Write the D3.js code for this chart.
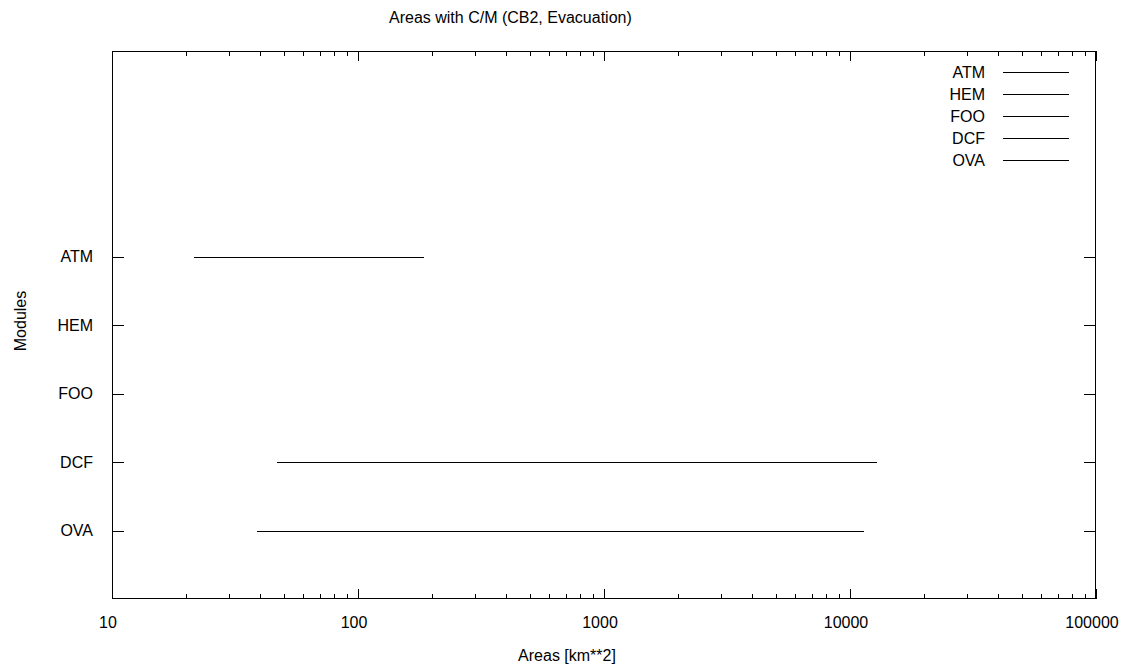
<!DOCTYPE html>
<html><head><meta charset="utf-8">
<script src="https://cdn.jsdelivr.net/npm/d3@7"></script>
<style>body{margin:0;background:#fff}text{font-family:"Liberation Sans",Arial,sans-serif;fill:#000}</style>
</head><body>
<svg id="c" width="1126" height="666"></svg>
<script>
const modules = ["ATM","HEM","FOO","DCF","OVA"];
const modulePos = [5,4,3,2,1];
const startValues = [21.6, null, null, 46.8, 38.9];
const endValues = [186, null, null, 12840, 11440];
const xTickValues = [10,100,1000,10000,100000];
const xTickLabels = ["10","100","1000","10000","100000"];
const titleText = "Areas with C/M (CB2, Evacuation)";
const xLabel = "Areas [km**2]";
const yLabel = "Modules";

const svg = d3.select("#c");
const L=112, R=1096, T=51, B=599;
const x = d3.scaleLog().domain([10,100000]).range([L,R]);
const y = d3.scaleLinear().domain([0,8]).range([B,T]);
const fs = 16;

// minor ticks
const minor = [];
for (let d=10; d<100000; d*=10) for (let k=2;k<=9;k++) minor.push(d*k);

const g = svg.append("g").attr("shape-rendering","crispEdges");
// frame
g.append("rect").attr("x",L+0.5).attr("y",T+0.5).attr("width",R-L-1).attr("height",B-T-1)
 .attr("fill","none").attr("stroke","#000").attr("stroke-width",1);

// x ticks bottom/top
const xt = g.append("g").attr("stroke","#000");
xTickValues.forEach(v=>{
  const px = Math.round(x(v))+0.5;
  xt.append("line").attr("x1",px).attr("x2",px).attr("y1",B).attr("y2",B-10);
  xt.append("line").attr("x1",px).attr("x2",px).attr("y1",T).attr("y2",T+10);
});
minor.forEach(v=>{
  const px = Math.round(x(v))+0.5;
  xt.append("line").attr("x1",px).attr("x2",px).attr("y1",B).attr("y2",B-5);
  xt.append("line").attr("x1",px).attr("x2",px).attr("y1",T).attr("y2",T+5);
});
// y ticks
modulePos.forEach(p=>{
  const py = Math.round(y(p))+0.5;
  xt.append("line").attr("x1",L).attr("x2",L+12).attr("y1",py).attr("y2",py);
  xt.append("line").attr("x1",R).attr("x2",R-12).attr("y1",py).attr("y2",py);
});

// tick labels
xTickValues.forEach((v,i)=>{
  svg.append("text").attr("x",x(v)-4).attr("y",628).attr("text-anchor","middle")
    .attr("font-size",fs).text(xTickLabels[i]);
});
modules.forEach((m,i)=>{
  svg.append("text").attr("x",93).attr("y",y(modulePos[i])+5.5).attr("text-anchor","end")
    .attr("font-size",fs).text(m);
});

// data lines
modules.forEach((m,i)=>{
  if (startValues[i]==null) return;
  const py = Math.round(y(modulePos[i]))+0.5;
  g.append("line").attr("x1",x(startValues[i])).attr("x2",x(endValues[i]))
   .attr("y1",py).attr("y2",py).attr("stroke","#000").attr("stroke-width",1);
});

// legend
modules.forEach((m,i)=>{
  const ly = 72 + i*22;
  svg.append("text").attr("x",985).attr("y",ly+5.5).attr("text-anchor","end")
    .attr("font-size",fs).text(m);
  g.append("line").attr("x1",1003).attr("x2",1069).attr("y1",ly+0.5).attr("y2",ly+0.5)
   .attr("stroke","#000");
});

// titles
svg.append("text").attr("x",389).attr("y",23).attr("font-size",fs).text(titleText);
svg.append("text").attr("x",567).attr("y",661).attr("text-anchor","middle").attr("font-size",fs).text(xLabel);
svg.append("text").attr("transform","translate(26,321) rotate(-90)").attr("text-anchor","middle")
  .attr("font-size",fs).text(yLabel);
</script>
</body></html>
